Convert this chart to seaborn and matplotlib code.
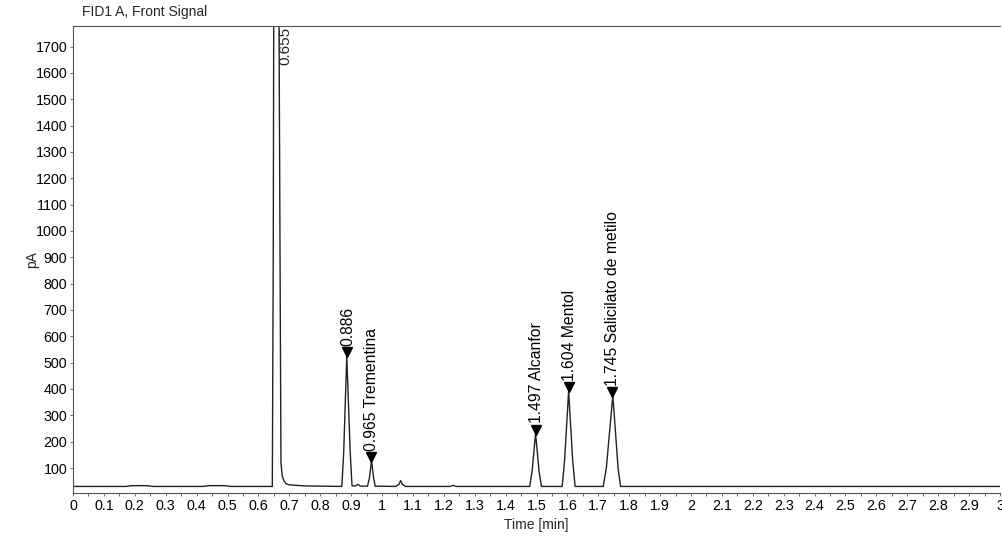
import numpy as np
import matplotlib.pyplot as plt
import seaborn as sns
import pandas as pd

# trace (time in min, signal in pA)
time = [0.0, 0.17, 0.19, 0.24, 0.26, 0.42, 0.44, 0.49, 0.51, 0.645,
        0.648, 0.655, 0.670, 0.673, 0.677, 0.683, 0.69, 0.70, 0.75, 0.87,
        0.876, 0.886, 0.897, 0.903, 0.915, 0.922, 0.93, 0.953, 0.959, 0.966,
        0.973, 0.978, 1.045, 1.055, 1.060, 1.066, 1.076, 1.22, 1.23, 1.24,
        1.478, 1.486, 1.497, 1.508, 1.516, 1.583, 1.591, 1.604, 1.617, 1.625,
        1.716, 1.726, 1.747, 1.764, 1.772, 3.0]
signal = [30, 30, 33, 33, 30, 30, 33, 33, 30, 30,
          900, 5000, 900, 120, 70, 50, 40, 36, 32, 30,
          160, 525, 160, 32, 32, 38, 31, 31, 60, 128,
          60, 31, 30, 38, 52, 38, 30, 30, 34, 30,
          30, 90, 232, 90, 30, 30, 130, 392, 130, 30,
          30, 100, 375, 100, 30, 30]

# labelled peaks
peak_times = [0.886, 0.965, 1.497, 1.604, 1.745]
peak_heights = [525, 128, 232, 392, 375]
peak_labels = ["0.886", "0.965 Trementina", "1.497 Alcanfor", "1.604 Mentol",
               "1.745 Salicilato de metilo"]

sns.set_style("ticks")
plt.rcParams['font.family'] = ['Liberation Sans', 'DejaVu Sans']

fig = plt.figure(figsize=(10.03, 5.38), dpi=100)
ax = fig.add_axes([0.0728, 0.0836, 0.9242, 0.868])

df = pd.DataFrame({'t': time, 's': signal})
sns.lineplot(data=df, x='t', y='s', ax=ax, color='#222222', lw=1.0)

for t, h, lab in zip(peak_times, peak_heights, peak_labels):
    ax.plot(t, h + 14, marker='v', color='black', ms=7, ls='none')
    ax.text(t + 0.002, h + 38, lab, rotation=90, ha='center', va='bottom',
            fontsize=11.3, color='black')

# off-scale solvent peak
ax.text(0.687, 1775, "0.655", rotation=90, ha='center', va='top', fontsize=11)

ax.set_xlim(0, 3)
ax.set_ylim(5, 1778)
ax.set_xticks(np.arange(0, 3.01, 0.1))
ax.set_xticklabels([f"{v:g}" for v in np.round(np.arange(0, 3.01, 0.1), 1)])
ax.set_xticks(np.arange(0.05, 3.0, 0.1), minor=True)
ax.set_yticks(np.arange(100, 1701, 100))
ax.tick_params(axis='both', labelsize=10.3, length=2.5, width=0.6,
               colors='#555555', labelcolor='black', pad=1.5)
ax.tick_params(axis='x', which='minor', length=2, width=0.5)
for s in ax.spines.values():
    s.set_linewidth(0.8)
    s.set_color('#555555')
ax.spines['right'].set_visible(False)

ax.set_xlabel("Time [min]", fontsize=10, labelpad=4)
ax.set_ylabel("pA", fontsize=10)
ax.yaxis.set_label_coords(-0.037, 0.5)
fig.text(0.082, 0.977, "FID1 A, Front Signal", fontsize=10, va='center')

fig.savefig("out.png", dpi=100)
